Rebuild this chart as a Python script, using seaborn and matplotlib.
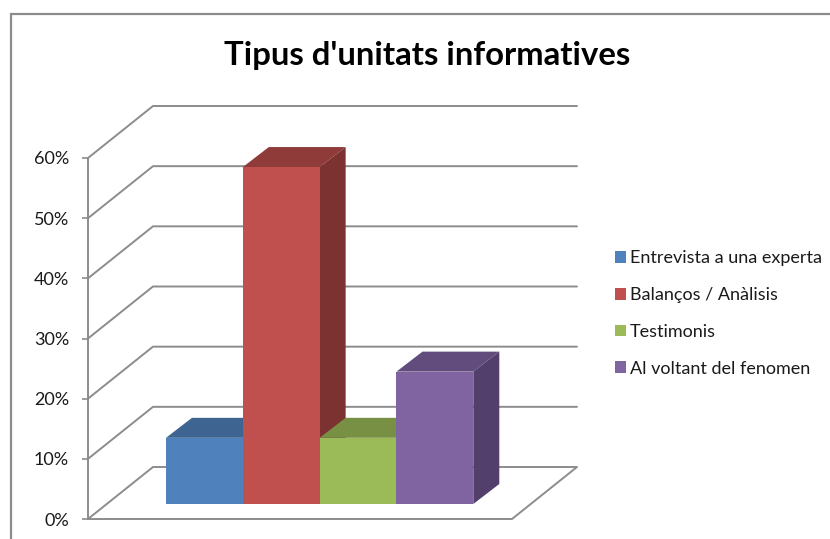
import matplotlib
matplotlib.use('Agg')
import matplotlib.pyplot as plt
from matplotlib.patches import Patch, Polygon
from matplotlib.ticker import PercentFormatter
import pandas as pd
import seaborn as sns

# data
categories = ['Entrevista a una experta', 'Balanços / Anàlisis', 'Testimonis', 'Al voltant del fenomen']
values = [0.11, 0.56, 0.11, 0.22]
ticks = [0, 0.1, 0.2, 0.3, 0.4, 0.5, 0.6]
title = "Tipus d'unitats informatives"

# colours: front, top, side
FRONT = ['#4F81BD', '#C0504D', '#9BBB59', '#8064A2']
TOP = ['#3E6491', '#8E3B39', '#779044', '#624C7D']
SIDE = ['#36577F', '#7C3230', '#68803B', '#533F6B']
LINE = '#8c8c8c'
TEXT = '#1a1a1a'

W, H = 830, 539
sns.set_theme(style='white')
plt.rcParams['font.family'] = ['Lato', 'DejaVu Sans']


def px_axes(fig, left, right, bottom, top):
    # axes placed by pixel edges, y measured from the top of the image
    ax = fig.add_axes([left / W, 1 - bottom / H, (right - left) / W, (bottom - top) / H])
    ax.patch.set_alpha(0)
    return ax


fig = plt.figure(figsize=(W / 100, H / 100), dpi=100, facecolor='white')

# chart frame + 3d walls, in image pixels
bg = fig.add_axes([0, 0, 1, 1])
bg.set_xlim(0, W); bg.set_ylim(H, 0); bg.axis('off')
bg.plot([10.5, 10.5, W], [H, 14, 14], color=LINE, lw=1.6, solid_joinstyle='miter')

X0, X1, Y0, Y60 = 88, 512, 519, 158      # front of the plot box
DX, DY = 65, -52                         # depth of the box
step = (Y0 - Y60) / 0.6
for t in ticks:
    y = Y0 - t * step
    if t == 0:
        bg.plot([X0, X0 + DX, X1 + DX, X1, X0], [y, y + DY, y + DY, y, y], color=LINE, lw=1.4)
    else:
        bg.plot([X0, X0 + DX, X1 + DX], [y, y + DY, y + DY], color=LINE, lw=1.4)

# value axis
axv = px_axes(fig, X0, X1, Y0, Y60)
axv.set_ylim(0, 0.6)
axv.set_xticks([])
axv.set_yticks(ticks)
axv.yaxis.set_major_formatter(PercentFormatter(1, decimals=0))
axv.tick_params(axis='y', left=True, length=4.3, width=1.2, color=LINE, pad=9.4, labelsize=13, labelcolor=TEXT)
sns.despine(ax=axv, top=True, right=True, bottom=True)
axv.spines['left'].set_color(LINE)
axv.spines['left'].set_linewidth(1.4)

# bars, on a plane set back from the front of the box
BL, BR, BB = 166, 473.3, 504
ax = px_axes(fig, BL, BR, BB, BB - 0.6 * step)
df = pd.DataFrame({'cat': categories, 'val': values})
sns.barplot(data=df, x='cat', y='val', hue='cat', palette=FRONT, width=1, dodge=False,
            legend=False, saturation=1, linewidth=0, ax=ax)
ax.set_xlim(-0.5, 3.5); ax.set_ylim(0, 0.6)
ax.axis('off')

# top and side faces taken from the bars themselves
dx = 26 / ((BR - BL) / 4)
dy = 20 / step
for i, bar in enumerate(ax.patches):
    x, w, h = bar.get_x(), bar.get_width(), bar.get_height()
    bar.set_zorder(2 * i + 3)
    ax.add_patch(Polygon([(x, h), (x + dx, h + dy), (x + w + dx, h + dy), (x + w, h)],
                         fc=TOP[i], ec='none', zorder=2 * i + 2, clip_on=False))
    ax.add_patch(Polygon([(x + w, 0), (x + w + dx, dy), (x + w + dx, h + dy), (x + w, h)],
                         fc=SIDE[i], ec='none', zorder=2 * i + 2, clip_on=False))

fig.text(427.5 / W, 1 - 55.5 / H, title, ha='center', va='center', fontsize=23.7, fontweight='bold', color='black')

handles = [Patch(fc=c, ec='none') for c in FRONT]
fig.legend(handles, categories, loc='center left', bbox_to_anchor=(615 / W, 1 - 313.5 / H), frameon=False,
           fontsize=13, labelcolor=TEXT, handlelength=0.62, handleheight=0.62, handletextpad=0.22,
           labelspacing=1.15, borderpad=0, borderaxespad=0)

fig.savefig('out.png', dpi=100)
